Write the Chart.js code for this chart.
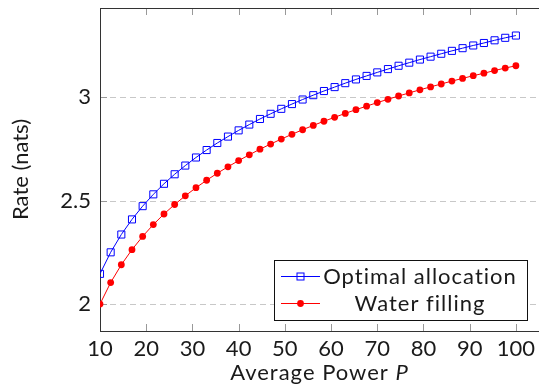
<!DOCTYPE html>
<html>
<head>
<meta charset="utf-8">
<script src="https://cdn.jsdelivr.net/npm/chart.js"></script>
<style>
  html, body { margin: 0; padding: 0; background: #fff; overflow: hidden; }
  #wrap { width: 545px; height: 388px; }
</style>
</head>
<body>
<div id="wrap"><canvas id="grafica" width="545" height="388"></canvas></div>
<script>
// datos
const potencia = [10, 12.308, 14.615, 16.923, 19.231, 21.538, 23.846, 26.154, 28.462, 30.769,
  33.077, 35.385, 37.692, 40, 42.308, 44.615, 46.923, 49.231, 51.538, 53.846,
  56.154, 58.462, 60.769, 63.077, 65.385, 67.692, 70, 72.308, 74.615, 76.923,
  79.231, 81.538, 83.846, 86.154, 88.462, 90.769, 93.077, 95.385, 97.692, 100];
const tasaOptima = [2.146, 2.250, 2.336, 2.409, 2.473, 2.530, 2.581, 2.627, 2.669, 2.708,
  2.744, 2.778, 2.809, 2.839, 2.867, 2.894, 2.919, 2.943, 2.966, 2.988,
  3.009, 3.029, 3.048, 3.067, 3.085, 3.102, 3.119, 3.135, 3.151, 3.166,
  3.181, 3.195, 3.209, 3.223, 3.236, 3.249, 3.261, 3.274, 3.286, 3.297];
const tasaWaterFilling = [2.000, 2.104, 2.190, 2.263, 2.327, 2.384, 2.435, 2.481, 2.523, 2.562,
  2.598, 2.632, 2.663, 2.693, 2.721, 2.748, 2.773, 2.797, 2.820, 2.842,
  2.863, 2.883, 2.902, 2.921, 2.939, 2.956, 2.973, 2.989, 3.005, 3.020,
  3.035, 3.049, 3.063, 3.077, 3.090, 3.103, 3.115, 3.128, 3.140, 3.151];
const ticksX = [10, 20, 30, 40, 50, 60, 70, 80, 90, 100];
const ticksY = [2, 2.5, 3];
const etiquetas = ['Optimal allocation', 'Water filling'];

const fuente = 'Lato, "DejaVu Sans", sans-serif';
const colorTexto = '#1a1a1a';

function puntos(xs, ys) {
  return xs.map((x, i) => ({ x: x, y: ys[i] }));
}

// marco, rejilla, marcas, titulos y leyenda al estilo pgfplots
const marcoPlugin = {
  id: 'marco',
  beforeDatasetsDraw(chart) {
    const ctx = chart.ctx;
    const a = chart.chartArea;
    const sx = chart.scales.x, sy = chart.scales.y;
    ctx.save();
    // rejilla horizontal punteada
    ctx.strokeStyle = '#c8c8c8';
    ctx.lineWidth = 1;
    ctx.setLineDash([6, 4]);
    ticksY.forEach(v => {
      const y = Math.round(sy.getPixelForValue(v)) + 0.5;
      ctx.beginPath();
      ctx.moveTo(a.left, y);
      ctx.lineTo(a.right, y);
      ctx.stroke();
    });
    ctx.setLineDash([]);
    // marcas hacia dentro
    ctx.strokeStyle = '#999';
    ticksX.forEach(v => {
      const x = Math.round(sx.getPixelForValue(v)) + 0.5;
      ctx.beginPath();
      ctx.moveTo(x, a.bottom); ctx.lineTo(x, a.bottom - 7);
      ctx.moveTo(x, a.top); ctx.lineTo(x, a.top + 7);
      ctx.stroke();
    });
    ticksY.forEach(v => {
      const y = Math.round(sy.getPixelForValue(v)) + 0.5;
      ctx.beginPath();
      ctx.moveTo(a.left, y); ctx.lineTo(a.left + 7, y);
      ctx.stroke();
    });
    // marco
    ctx.strokeStyle = '#333';
    ctx.strokeRect(a.left + 0.5, a.top + 0.5, a.right - a.left, a.bottom - a.top);
    ctx.restore();
  },
  afterDraw(chart) {
    const ctx = chart.ctx;
    const a = chart.chartArea;
    ctx.save();
    ctx.fillStyle = colorTexto;
    ctx.font = '22px ' + fuente;
    ctx.textBaseline = 'middle';
    // titulo eje y
    ctx.save();
    ctx.translate(21, (a.top + a.bottom) / 2);
    ctx.rotate(-Math.PI / 2);
    ctx.textAlign = 'center';
    ctx.fillText('Rate (nats)', 0, 0);
    ctx.restore();
    // titulo eje x con P en cursiva
    ctx.letterSpacing = '1px';
    const t1 = 'Average Power ';
    const w1 = ctx.measureText(t1).width;
    ctx.font = 'italic 22px ' + fuente;
    const w2 = ctx.measureText('P').width;
    const cx = (a.left + a.right) / 2;
    const x0 = cx - (w1 + w2) / 2;
    ctx.textAlign = 'left';
    ctx.font = '22px ' + fuente;
    ctx.fillText(t1, x0, 373);
    ctx.font = 'italic 22px ' + fuente;
    ctx.fillText('P', x0 + w1, 373);

    // leyenda
    const caja = { x: 274.5, y: 260.5, w: 253, h: 60 };
    ctx.fillStyle = '#fff';
    ctx.fillRect(caja.x, caja.y, caja.w, caja.h);
    ctx.strokeStyle = '#111';
    ctx.lineWidth = 1;
    ctx.strokeRect(caja.x, caja.y, caja.w, caja.h);
    const filas = [276, 303];
    chart.data.datasets.forEach((ds, i) => {
      const y = filas[i];
      ctx.strokeStyle = ds.borderColor;
      ctx.beginPath();
      ctx.moveTo(281, y + 0.5);
      ctx.lineTo(320, y + 0.5);
      ctx.stroke();
      if (i === 0) {
        ctx.strokeRect(297, y - 3, 7, 7);
      } else {
        ctx.fillStyle = ds.pointBackgroundColor;
        ctx.beginPath();
        ctx.arc(300.5, y + 0.5, 3.4, 0, Math.PI * 2);
        ctx.fill();
      }
      ctx.fillStyle = colorTexto;
      ctx.font = '22px ' + fuente;
      ctx.textAlign = 'center';
      ctx.fillText(etiquetas[i], 420, y + 1);
    });
    ctx.restore();
  }
};

new Chart(document.getElementById('grafica'), {
  type: 'line',
  data: {
    datasets: [
      {
        label: etiquetas[0],
        data: puntos(potencia, tasaOptima),
        borderColor: '#0000ff',
        borderWidth: 1,
        pointStyle: 'rect',
        pointRadius: 5,
        pointBorderWidth: 1,
        pointBorderColor: '#0000ff',
        pointBackgroundColor: 'rgba(0,0,0,0)',
        tension: 0
      },
      {
        label: etiquetas[1],
        data: puntos(potencia, tasaWaterFilling),
        borderColor: '#ff0000',
        borderWidth: 1,
        pointStyle: 'circle',
        pointRadius: 3.4,
        pointBorderWidth: 0,
        pointBackgroundColor: '#ff0000',
        tension: 0
      }
    ]
  },
  options: {
    responsive: false,
    animation: false,
    layout: { padding: { top: 8, right: 4, left: 0, bottom: 0 } },
    plugins: { legend: { display: false }, tooltip: { enabled: false } },
    scales: {
      x: {
        type: 'linear',
        min: 10,
        max: 105,
        grid: { display: false, drawTicks: false },
        border: { display: false },
        afterBuildTicks: s => { s.ticks = ticksX.map(v => ({ value: v })); },
        afterFit: s => { s.height = 57; s.paddingLeft = 0; s.paddingRight = 0; },
        ticks: { color: colorTexto, font: { family: fuente, size: 22 }, padding: 5, maxRotation: 0 }
      },
      y: {
        type: 'linear',
        min: 1.87,
        max: 3.43,
        grid: { display: false, drawTicks: false },
        border: { display: false },
        afterBuildTicks: s => { s.ticks = ticksY.map(v => ({ value: v })); },
        afterFit: s => { s.width = 100; s.paddingTop = 0; s.paddingBottom = 0; },
        ticks: { color: colorTexto, font: { family: fuente, size: 22 }, padding: 9, callback: v => String(v) }
      }
    }
  },
  plugins: [marcoPlugin]
});
</script>
</body>
</html>
